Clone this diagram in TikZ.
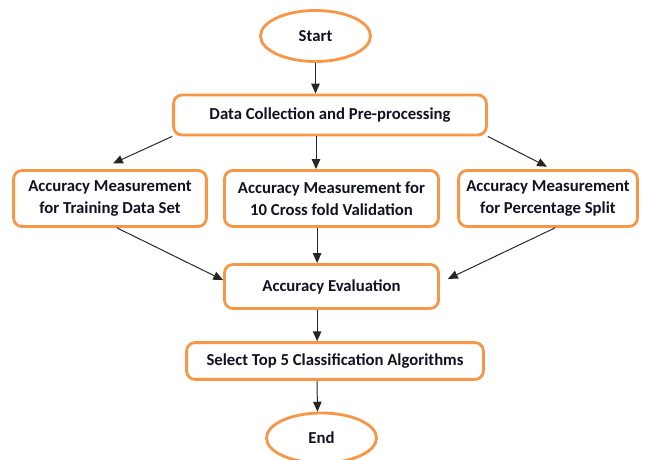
\documentclass[tikz,border=0pt]{standalone}
\usepackage{fontspec}
\setmainfont{Carlito}
\usepackage{xcolor}
\usepackage{tikz}
\usetikzlibrary{arrows.meta, positioning, shapes.geometric, calc}
\definecolor{floworange}{RGB}{247, 150, 70}
\definecolor{flowtext}{RGB}{18, 18, 34}

\begin{document}
\begin{tikzpicture}[
  every node/.style={font=\fontsize{11.9}{15.5}\selectfont\bfseries, text=flowtext},
  terminal/.style={
    ellipse, draw=floworange, line width=2pt, fill=white,
    inner sep=0pt
  },
  box/.style={
    draw=floworange, line width=2pt, fill=white, rounded corners=6pt,
    align=center, inner sep=3pt
  },
  arrow/.style={-{Triangle[length=7pt, width=6pt]}, line width=0.7pt, color=black!85}
]
  \useasboundingbox (0,0) rectangle (16.15,11.5);

  % Inizio e raccolta dati
  \node[terminal, minimum width=2.75cm, minimum height=1.275cm] (start) at (7.8875,10.6) {Start};
  \node[box, minimum width=7.82cm, minimum height=1.0cm] (data) at (8.25,8.625) {Data Collection and Pre-processing};

  % Tre misure di accuratezza
  \node[box, minimum width=4.82cm, minimum height=1.4cm] (train) at (2.75,6.5375) {Accuracy Measurement\\for Training Data Set};
  \node[box, minimum width=5.35cm, minimum height=1.4cm] (cross) at (8.2875,6.5375) {Accuracy Measurement for\\10 Cross fold Validation};
  \node[box, minimum width=4.47cm, minimum height=1.4cm] (split) at (13.7,6.5375) {Accuracy Measurement\\for Percentage Split};

  % Valutazione e selezione
  \node[box, minimum width=5.35cm, minimum height=1.1cm] (eval) at (8.2875,4.3375) {Accuracy Evaluation};
  \node[box, minimum width=7.42cm, minimum height=0.92cm] (select) at (8.375,2.475) {Select Top 5 Classification Algorithms};
  \node[terminal, minimum width=2.75cm, minimum height=1.25cm] (end) at (8.0375,0.55) {End};

  % Frecce
  \draw[arrow] (start.south) -- (start.south |- data.north);
  \draw[arrow] (data.south west) -- ([xshift=0.075cm, yshift=0.14cm]train.north);
  \draw[arrow] ([xshift=-0.35cm]data.south) -- ([xshift=-0.35cm]data.south |- cross.north);
  \draw[arrow] (data.south east) -- ([xshift=-0.025cm, yshift=0.06cm]split.north);

  \draw[arrow] ([xshift=0.175cm]train.south) -- ([yshift=0.16cm]eval.west);
  \draw[arrow] ([xshift=-0.36cm]cross.south) -- ([xshift=-0.36cm]cross.south |- eval.north);
  \draw[arrow] ([xshift=0.175cm]split.south) -- ([xshift=0.2cm, yshift=0.19cm]eval.east);

  \draw[arrow] ([xshift=-0.36cm]eval.south) -- ([xshift=-0.36cm]eval.south |- select.north);
  \draw[arrow] ([xshift=-0.45cm]select.south) -- ([xshift=-0.1cm]end.north);

\end{tikzpicture}
\end{document}
